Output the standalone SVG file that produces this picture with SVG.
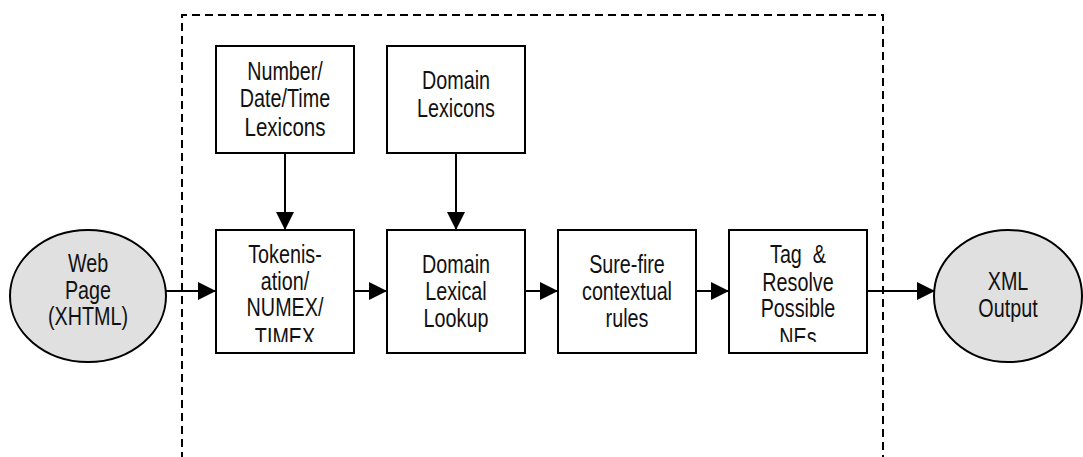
<svg xmlns="http://www.w3.org/2000/svg" width="1083" height="457" viewBox="0 0 1083 457">
  <style>
    .box { fill: #ffffff; stroke: #000000; stroke-width: 2; }
    .term { fill: #e0e0e0; stroke: #000000; stroke-width: 2; }
    .lbl { font-family: "Liberation Sans", Arial, sans-serif; font-size: 25px; fill: #111111; text-anchor: middle; }
    .edge { fill: none; stroke: #000000; stroke-width: 2; }
    .frame { fill: none; stroke: #000000; stroke-width: 2; stroke-dasharray: 8 5; }
  </style>
  <defs>
    <marker id="arrow" markerUnits="userSpaceOnUse" markerWidth="18" markerHeight="18" refX="18" refY="9" orient="auto">
      <path d="M0,0 L18,9 L0,18 z" fill="#000000"/>
    </marker>
    <clipPath id="clipTok"><rect x="216" y="230" width="138" height="112"/></clipPath>
    <clipPath id="clipTag"><rect x="729" y="230" width="138" height="112"/></clipPath>
  </defs>
  <rect width="1083" height="457" fill="#ffffff"/>

  <!-- system boundary (open at the bottom) -->
  <path class="frame" d="M182,460 L182,15 L883,15 L883,460"/>

  <!-- connectors -->
  <g id="connectors">
    <line class="edge" x1="166" y1="291" x2="216" y2="291" marker-end="url(#arrow)"/>
    <line class="edge" x1="354" y1="291" x2="387" y2="291" marker-end="url(#arrow)"/>
    <line class="edge" x1="525" y1="291" x2="558" y2="291" marker-end="url(#arrow)"/>
    <line class="edge" x1="696" y1="291" x2="729" y2="291" marker-end="url(#arrow)"/>
    <line class="edge" x1="867" y1="291" x2="935" y2="291" marker-end="url(#arrow)"/>
    <line class="edge" x1="285" y1="153" x2="285" y2="230" marker-end="url(#arrow)"/>
    <line class="edge" x1="456" y1="153" x2="456" y2="230" marker-end="url(#arrow)"/>
  </g>

  <!-- labels use a horizontally condensed sans face -->
  <g id="web-page">
    <ellipse class="term" cx="88" cy="296" rx="78" ry="66"/>
    <g transform="translate(88 0) scale(0.79 1)">
      <text class="lbl" x="0" y="272">Web</text>
      <text class="lbl" x="0" y="299">Page</text>
      <text class="lbl" x="0" y="325">(XHTML)</text>
    </g>
  </g>

  <g id="number-lexicons">
    <rect class="box" x="216" y="46" width="138" height="107"/>
    <g transform="translate(285 0) scale(0.79 1)">
      <text class="lbl" x="0" y="80">Number/</text>
      <text class="lbl" x="0" y="107">Date/Time</text>
      <text class="lbl" x="0" y="136" style="font-size:26px">Lexicons</text>
    </g>
  </g>

  <g id="domain-lexicons">
    <rect class="box" x="387" y="46" width="138" height="107"/>
    <g transform="translate(456 0) scale(0.79 1)">
      <text class="lbl" x="0" y="89">Domain</text>
      <text class="lbl" x="0" y="117">Lexicons</text>
    </g>
  </g>

  <g id="tokenisation">
    <rect class="box" x="216" y="230" width="138" height="123"/>
    <g clip-path="url(#clipTok)">
      <g transform="translate(285 0) scale(0.79 1)">
        <text class="lbl" x="0" y="263">Tokenis-</text>
        <text class="lbl" x="0" y="290">ation/</text>
        <text class="lbl" x="0" y="316">NUMEX/</text>
        <text class="lbl" x="0" y="346">TIMEX</text>
      </g>
    </g>
  </g>

  <g id="domain-lookup">
    <rect class="box" x="387" y="230" width="138" height="123"/>
    <g transform="translate(456 0) scale(0.79 1)">
      <text class="lbl" x="0" y="273">Domain</text>
      <text class="lbl" x="0" y="300">Lexical</text>
      <text class="lbl" x="0" y="327">Lookup</text>
    </g>
  </g>

  <g id="contextual-rules">
    <rect class="box" x="558" y="230" width="138" height="123"/>
    <g transform="translate(627 0) scale(0.79 1)">
      <text class="lbl" x="0" y="273">Sure-fire</text>
      <text class="lbl" x="0" y="300">contextual</text>
      <text class="lbl" x="0" y="327">rules</text>
    </g>
  </g>

  <g id="tag-resolve">
    <rect class="box" x="729" y="230" width="138" height="123"/>
    <g clip-path="url(#clipTag)">
      <g transform="translate(798 0) scale(0.79 1)">
        <text class="lbl" x="0" y="263" xml:space="preserve">Tag  &amp;</text>
        <text class="lbl" x="0" y="291">Resolve</text>
        <text class="lbl" x="0" y="317">Possible</text>
        <text class="lbl" x="0" y="346">NEs</text>
      </g>
    </g>
  </g>

  <g id="xml-output">
    <ellipse class="term" cx="1008" cy="296" rx="74" ry="66"/>
    <g transform="translate(1008 0) scale(0.79 1)">
      <text class="lbl" x="0" y="290">XML</text>
      <text class="lbl" x="0" y="317">Output</text>
    </g>
  </g>
</svg>
